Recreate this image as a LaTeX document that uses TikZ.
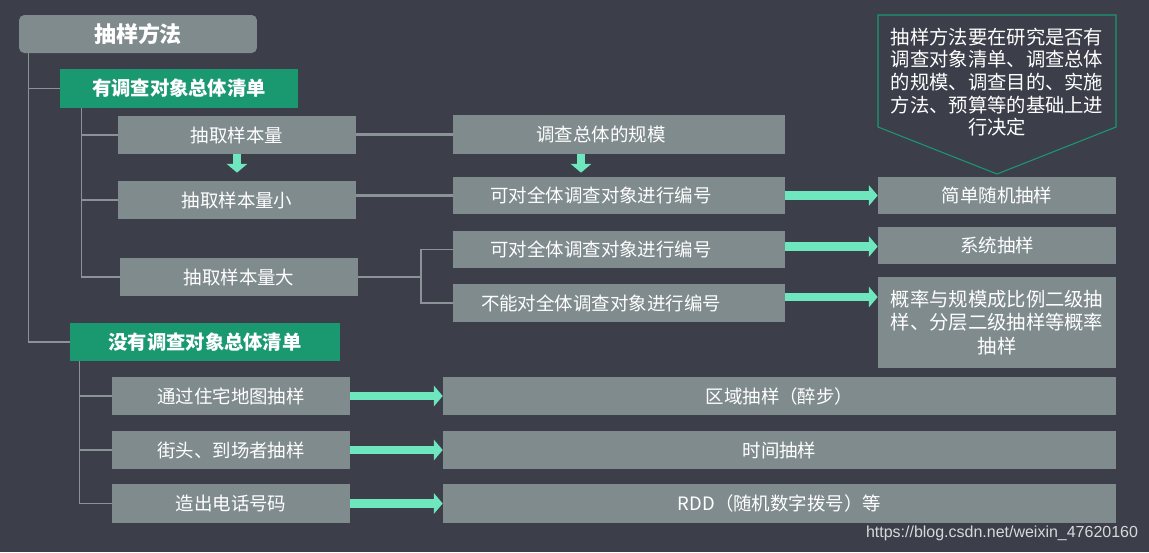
\documentclass[tikz,border=0pt]{standalone}
\usepackage{fontspec}
\setmainfont{Noto Sans CJK SC}
\newfontfamily\urlfont{Liberation Sans}
\usepackage{tikz}
\usetikzlibrary{arrows.meta, positioning}

\definecolor{slatebg}{RGB}{60, 63, 74}
\definecolor{boxgray}{RGB}{128, 139, 142}
\definecolor{listgreen}{RGB}{26, 152, 112}
\definecolor{mintflow}{RGB}{110, 230, 190}
\definecolor{linegray}{RGB}{138, 147, 150}

\tikzset{
  box/.style={fill=boxgray, text=white, inner sep=0pt, minimum height=0.76cm,
              font=\fontsize{10.5}{12}\selectfont},
  listbox/.style={fill=listgreen, text=white, inner sep=0pt, minimum height=0.77cm,
              font=\bfseries\fontsize{11}{13}\selectfont},
  tree/.style={draw=linegray, line width=0.6pt},
  link/.style={draw=linegray, line width=1.7pt},
  flow/.style={draw=mintflow, line width=5pt, -{Triangle[width=11.5pt,length=5pt]}}
}

\begin{document}
\begin{tikzpicture}[x=0.02cm, y=-0.02cm]
  % background
  \fill[slatebg] (0,0) rectangle (1149,552);

  % Root
  \node[box, rounded corners=3pt, minimum width=4.76cm, font=\bfseries\fontsize{12.5}{14}\selectfont] (root) at (138,34) {抽样方法};

  % With a list
  \node[listbox, minimum width=4.76cm] (haslist) at (179,88.5) {有调查对象总体清单};
  \node[box, minimum width=4.76cm] (size) at (237,135) {抽取样本量};
  \node[box, minimum width=4.76cm] (small) at (237,200) {抽取样本量小};
  \node[box, minimum width=4.76cm] (large) at (239,277) {抽取样本量大};

  \node[box, minimum width=6.64cm, minimum height=0.78cm] (scale) at (619,134.5) {调查总体的规模\hspace*{0.72cm}};
  \node[box, minimum width=6.64cm, minimum height=0.74cm] (numA) at (619,195.5) {可对全体调查对象进行编号\hspace*{0.72cm}};
  \node[box, minimum width=6.64cm, minimum height=0.74cm] (numB) at (619,249.5) {可对全体调查对象进行编号\hspace*{0.72cm}};
  \node[box, minimum width=6.64cm] (nonum) at (619,303) {不能对全体调查对象进行编号\hspace*{0.72cm}};

  \node[box, minimum width=4.76cm, minimum height=0.74cm] (srs) at (997,195.5) {简单随机抽样};
  \node[box, minimum width=4.76cm, minimum height=0.74cm] (sys) at (997,245.5) {系统抽样};
  \node[box, minimum width=4.76cm, minimum height=1.82cm, align=center,
        font=\fontsize{11}{13.5}\selectfont] (pps) at (997,322.5)
        {概率与规模成比例二级抽\\样、分层二级抽样等概率\\抽样};

  % Callout
  \draw[listgreen, line width=0.6pt] (878,15) -- (1116,15) -- (1116,127) -- (997,174) -- (878,127) -- cycle;
  \node[text=white, align=center, font=\fontsize{11}{12.9}\selectfont] (note) at (997,82)
        {抽样方法要在研究是否有\\调查对象清单、调查总体\\的规模、调查目的、实施\\方法、预算等的基础上进\\行决定};

  % Without a list
  \node[listbox, minimum width=5.4cm, minimum height=0.76cm] (nolist) at (205,342) {没有调查对象总体清单};
  \node[box, minimum width=4.76cm] (map) at (231,396) {通过住宅地图抽样};
  \node[box, minimum width=4.76cm] (street) at (231,450) {街头、到场者抽样};
  \node[box, minimum width=4.76cm, minimum height=0.78cm] (phone) at (231,503.5) {造出电话号码};

  \node[box, minimum width=13.46cm] (area) at (779.5,396) {区域抽样（醉步）};
  \node[box, minimum width=13.46cm] (time) at (779.5,450) {时间抽样};
  \node[box, minimum width=13.46cm, minimum height=0.78cm] (rdd) at (779.5,503.5) {RDD（随机数字拨号）等};

  % Tree lines
  \draw[tree] ([xshift=0.2cm]root.south west) |- (haslist.west);
  \draw[tree] ([xshift=0.2cm]root.south west) |- (nolist.west);
  \draw[tree] ([xshift=0.44cm]haslist.south west) |- (size.west);
  \draw[tree] ([xshift=0.44cm]haslist.south west) |- (small.west);
  \draw[tree] ([xshift=0.44cm]haslist.south west) |- (large.west);
  \draw[tree] ([xshift=0.2cm]nolist.south west) |- (map.west);
  \draw[tree] ([xshift=0.2cm]nolist.south west) |- (street.west);
  \draw[tree] ([xshift=0.2cm]nolist.south west) |- (phone.west);

  \coordinate (split) at (421,277);
  \draw[tree] (large.east) -- (split) |- (numB.west);
  \draw[tree] (split) |- (nonum.west);

  % Thick links
  \draw[link] (size.east |- scale.west) -- (scale.west);
  \draw[link] (small.east |- numA.west) -- (numA.west);

  % Down arrows
  \draw[flow] (size.south) -- ([yshift=0.16cm]small.north);
  \draw[flow] ([xshift=-0.76cm]scale.south) -- ([xshift=-0.76cm,yshift=0.08cm]numA.north);

  % Flow arrows
  \draw[flow] (numA.east) -- (srs.west);
  \draw[flow] ([yshift=0.06cm]numB.east) -- ([yshift=0.06cm]numB.east -| sys.west);
  \draw[flow] ([yshift=0.12cm]nonum.east) -- ([yshift=0.12cm]nonum.east -| pps.west);
  \draw[flow] (map.east) -- (area.west);
  \draw[flow] (street.east) -- (time.west);
  \draw[flow] (phone.east) -- (rdd.west);

  % Watermark
  \node[text=white!80!slatebg, font=\urlfont\fontsize{9.1}{10}\selectfont] (mark) at (1002,533) {https://blog.csdn.net/weixin\_47620160};
\end{tikzpicture}
\end{document}
